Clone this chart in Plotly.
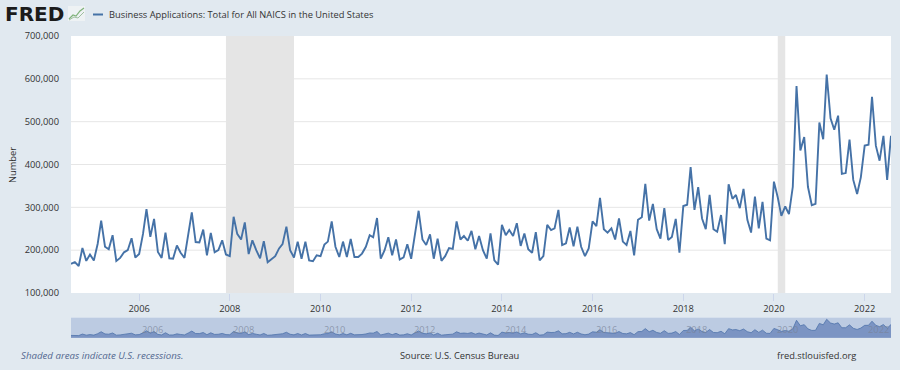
import plotly.graph_objects as go
import pandas as pd

# ---------------- data (thousands of applications, monthly from 2004-07) ----------------
start_month = "2004-07-01"
apps_2004_2007 = [168, 172, 163, 205, 175, 190, 176, 215, 269, 208, 202, 235, 175, 182, 195, 200,
                  228, 183, 191, 238, 296, 231, 273, 196, 182, 241, 181, 180, 211, 194, 182, 235,
                  288, 219, 218, 248, 188, 240]
apps_2007_2009 = [195, 200, 223, 190, 186, 278, 238, 225, 265, 191, 223, 200, 181, 221, 172, 179,
                  186, 204, 214, 255]
apps_2009_2013 = [200, 183, 220, 180, 220, 176, 174, 188, 186, 213, 220, 267, 208, 184, 220, 184,
                  226, 184, 184, 192, 208, 235, 230, 275, 180, 200, 230, 188, 225, 178, 183, 214,
                  180, 238, 292, 225, 212, 237, 180, 227, 175, 186, 205, 203, 267, 225, 233, 222,
                  245, 202]
apps_2013_2016 = [233, 200, 180, 239, 176, 166, 259, 235, 247, 233, 263, 210, 239, 202, 194, 242,
                  176, 186, 259, 247, 251, 294, 212, 216, 253, 209, 255, 208, 186, 204, 267, 256,
                  322, 249, 241, 251]
apps_2016_2019 = [225, 274, 220, 212, 245, 188, 271, 277, 355, 269, 308, 249, 227, 298, 224, 231,
                  273, 194, 303, 306, 394, 294, 347, 274, 249, 329, 249, 243, 282, 214, 354, 320,
                  329, 298, 343, 271, 241]
apps_2019_2022 = [325, 251, 313, 227, 223, 360, 323, 280, 302, 284, 348, 583, 433, 464, 348, 305,
                  308, 498, 459, 610, 508, 481, 514, 378, 380, 458, 364, 331, 370, 444, 446, 558,
                  444, 409, 467, 364, 467]

values_k = apps_2004_2007 + apps_2007_2009 + apps_2009_2013 + apps_2013_2016 + apps_2016_2019 + apps_2019_2022
values = [v * 1000 for v in values_k]
dates = pd.date_range(start_month, periods=len(values), freq="MS")

recessions = [("2007-12-01", "2009-06-01"), ("2020-02-01", "2020-04-01")]
x_tick_years = [2006, 2008, 2010, 2012, 2014, 2016, 2018, 2020, 2022]
y_ticks = [100000, 200000, 300000, 400000, 500000, 600000, 700000]

series_name = "Business Applications: Total for All NAICS in the United States"
y_title = "Number"
source_text = "Source: U.S. Census Bureau"
recession_note = "Shaded areas indicate U.S. recessions."
site_text = "fred.stlouisfed.org"

# ---------------- layout geometry ----------------
W, H = 900, 370
ML, MR, MT, MB = 71, 9, 36, 32
PW, PH = W - ML - MR, H - MT - MB


def px_x(p):
    return (p - ML) / PW


def px_y(p):
    return (H - MB - p) / PH


BG = "#e1e9f0"
LINE = "#4572a7"
FONT = "Open Sans"
FS = 9.3

x_range = [dates[0], dates[-1]]

fig = go.Figure()

fig.add_trace(go.Scatter(x=dates, y=values, mode="lines",
                         line=dict(color=LINE, width=1.9),
                         xaxis="x", yaxis="y", hoverinfo="x+y", showlegend=False))

# navigator
fig.add_trace(go.Scatter(x=dates, y=values, mode="lines",
                         line=dict(color="#4f73ab", width=0.8),
                         fill="tozeroy", fillcolor="rgba(80,112,175,0.6)",
                         xaxis="x2", yaxis="y2", hoverinfo="skip", showlegend=False))

shapes = []
# horizontal grid lines (drawn as shapes so recession bands can cover them)
for t in y_ticks[1:-1]:
    shapes.append(dict(type="line", xref="x domain", yref="y", x0=0, x1=1, y0=t, y1=t,
                       line=dict(color="#e6e6e6", width=1), layer="below"))
for a, b in recessions:
    shapes.append(dict(type="rect", xref="x", yref="y domain", x0=a, x1=b, y0=0, y1=1,
                       fillcolor="#e5e5e5", line=dict(width=0), layer="below"))

# navigator background
shapes.append(dict(type="rect", xref="paper", yref="paper", x0=0, x1=1,
                   y0=px_y(337.5), y1=px_y(317.5), fillcolor="#bccbe2",
                   line=dict(width=0), layer="below"))

# legend line sample
shapes.append(dict(type="line", xref="paper", yref="paper",
                   x0=px_x(93), x1=px_x(103), y0=px_y(14.5), y1=px_y(14.5),
                   line=dict(color=LINE, width=2)))

# small logo icon
shapes.append(dict(type="rect", xref="paper", yref="paper",
                   x0=px_x(68), x1=px_x(85), y0=px_y(21), y1=px_y(6),
                   fillcolor="#eef2f4", line=dict(width=0)))
shapes.append(dict(type="path", xref="paper", yref="paper",
                   path="M {} {} L {} {} L {} {} L {} {} L {} {}".format(
                       px_x(69), px_y(19), px_x(73), px_y(15), px_x(76), px_y(16),
                       px_x(80), px_y(11), px_x(84), px_y(8)),
                   line=dict(color="#7fb27a", width=1.2)))
shapes.append(dict(type="path", xref="paper", yref="paper",
                   path="M {} {} L {} {} L {} {} L {} {}".format(
                       px_x(69), px_y(20), px_x(74), px_y(17), px_x(78), px_y(18),
                       px_x(84), px_y(12)),
                   line=dict(color="#9fbfa0", width=1)))

annotations = [
    dict(text="<b>FRED</b>", xref="paper", yref="paper", x=px_x(3), y=px_y(14),
         xanchor="left", yanchor="middle", showarrow=False,
         font=dict(family="DejaVu Sans", size=20, color="#1b1b1b")),
    dict(text=series_name, xref="paper", yref="paper", x=px_x(107), y=px_y(14.5),
         xanchor="left", yanchor="middle", showarrow=False,
         font=dict(family=FONT, size=FS, color="#333333")),
    dict(text="<i>" + recession_note + "</i>", xref="paper", yref="paper", x=px_x(19), y=px_y(355.5),
         xanchor="left", yanchor="middle", showarrow=False,
         font=dict(family=FONT, size=9.7, color="#52678f")),
    dict(text=source_text, xref="paper", yref="paper", x=px_x(459), y=px_y(355.5),
         xanchor="center", yanchor="middle", showarrow=False,
         font=dict(family=FONT, size=FS, color="#333333")),
    dict(text=site_text, xref="paper", yref="paper", x=px_x(858), y=px_y(355.5),
         xanchor="right", yanchor="middle", showarrow=False,
         font=dict(family=FONT, size=FS, color="#333333")),
    dict(text=y_title, xref="paper", yref="paper", x=px_x(12), y=px_y(165),
         xanchor="center", yanchor="middle", showarrow=False, textangle=-90,
         font=dict(family=FONT, size=FS, color="#333333")),
]
for yr in x_tick_years:
    annotations.append(dict(text=str(yr), xref="x2", yref="paper", x="%d-01-01" % yr, y=px_y(329),
                            xanchor="left", yanchor="middle", xshift=1, showarrow=False,
                            font=dict(family=FONT, size=FS, color="rgba(120,130,150,0.7)")))

fig.update_layout(
    width=W, height=H,
    margin=dict(l=ML, r=MR, t=MT, b=MB, autoexpand=False),
    paper_bgcolor=BG, plot_bgcolor="white",
    font=dict(family=FONT, size=FS, color="#333333"),
    showlegend=False,
    shapes=shapes, annotations=annotations,
    xaxis=dict(domain=[0, 1], anchor="y", range=x_range, showgrid=False, zeroline=False,
               automargin=False,
               tickvals=["%d-01-01" % y for y in x_tick_years],
               ticktext=[str(y) for y in x_tick_years],
               ticks="outside", ticklen=7, tickcolor="#ccd6eb", tickwidth=1,
               tickfont=dict(family=FONT, size=FS, color="#333333"), showline=False),
    yaxis=dict(domain=[px_y(293), 1], anchor="x", range=[100000, 700000],
               automargin=False,
               tickvals=y_ticks, tickformat=",", showgrid=False,
               zeroline=False, showline=False, ticks="", ticklabelstandoff=11,
               tickfont=dict(family=FONT, size=FS, color="#333333")),
    xaxis2=dict(domain=[0, 1], anchor="y2", range=x_range, showgrid=False, zeroline=False,
                automargin=False, showticklabels=False, ticks="", showline=False),
    yaxis2=dict(domain=[0, px_y(317.5)], anchor="x2", range=[97000, 660000], showgrid=False,
                automargin=False,
                zeroline=False, showticklabels=False, ticks="", showline=False),
)

fig.write_html("out.html", config={"displayModeBar": False},
               post_script="document.body.style.margin='0';document.body.style.overflow='hidden';")
